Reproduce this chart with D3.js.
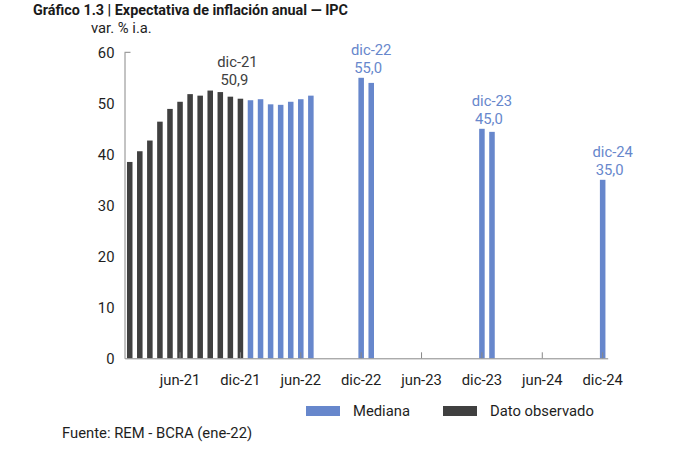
<!DOCTYPE html>
<html><head><meta charset="utf-8">
<script src="https://cdn.jsdelivr.net/npm/d3@7"></script>
<style>
body{margin:0;background:#fff;}
text{font-family:Roboto,"Noto Sans",sans-serif;}
</style></head>
<body><svg id="c" width="676" height="458"></svg>
<script>
const monthNames = ["ene","feb","mar","abr","may","jun","jul","ago","sep","oct","nov","dic"];
const years = ["21","22","23","24"];
const categories = [];
years.forEach(y => monthNames.forEach(m => categories.push(m + "-" + y)));

const observedMonths = ["ene-21","feb-21","mar-21","abr-21","may-21","jun-21","jul-21","ago-21","sep-21","oct-21","nov-21","dic-21"];
const observedValues = [38.5,40.6,42.7,46.4,48.9,50.3,51.8,51.5,52.5,52.2,51.3,50.9];
const medianMonths = ["ene-22","feb-22","mar-22","abr-22","may-22","jun-22","jul-22","dic-22","ene-23","dic-23","ene-24","dic-24"];
const medianValues = [50.6,50.8,49.8,49.7,50.3,50.8,51.5,55.0,54.0,45.0,44.4,35.0];
const tickLabels = ["jun-21","dic-21","jun-22","dic-22","jun-23","dic-23","jun-24","dic-24"];
const yTicks = [0,10,20,30,40,50,60];
const annotMonths = ["dic-21","dic-22","dic-23","dic-24"];
const annotValues = [50.9,55.0,45.0,35.0];

const BLUE = "#6787cc", DARK = "#404040", TXT = "#1e1e1e";
const FS = 14.8;
const svg = d3.select("#c");
const x = d3.scaleBand().domain(categories).range([124.7, 607.7]).paddingInner(0.45).paddingOuter(0.225);
const y = d3.scaleLinear().domain([0,60]).range([358.3, 52.3]);

// title
svg.append("text").attr("x",33).attr("y",15).attr("font-size",15.5).attr("font-weight","bold")
  .attr("fill","#1a1a1a").attr("textLength",315).attr("lengthAdjust","spacingAndGlyphs")
  .text("Gráfico 1.3 | Expectativa de inflación anual — IPC");
svg.append("text").attr("x",91).attr("y",33).attr("font-size",FS).attr("fill",TXT).text("var. % i.a.");

// bars
const obs = observedMonths.map((m,i)=>({m,v:observedValues[i]}));
const med = medianMonths.map((m,i)=>({m,v:medianValues[i]}));
svg.append("g").selectAll("rect").data(obs).join("rect")
  .attr("x",d=>x(d.m)).attr("width",x.bandwidth()).attr("y",d=>y(d.v)).attr("height",d=>y(0)-y(d.v)).attr("fill",DARK);
svg.append("g").selectAll("rect").data(med).join("rect")
  .attr("x",d=>x(d.m)).attr("width",x.bandwidth()).attr("y",d=>y(d.v)).attr("height",d=>y(0)-y(d.v)).attr("fill",BLUE);

// y axis
const yAxis = d3.axisLeft(y).tickValues(yTicks).tickSize(0).tickPadding(10);
const gy = svg.append("g").attr("transform","translate(124.5,0)").call(yAxis);
gy.select(".domain").attr("stroke","#888");
gy.selectAll("text").attr("font-size",FS).attr("fill",TXT).attr("font-family","Roboto");
gy.append("line").attr("x1",0).attr("x2",6).attr("y1",y(60)).attr("y2",y(60)).attr("stroke","#888");

// x axis
const xAxis = d3.axisBottom(x).tickValues(tickLabels).tickSize(0).tickPadding(16);
const gx = svg.append("g").attr("transform",`translate(0,${y(0)})`).call(xAxis);
gx.select(".domain").attr("stroke","#888");
gx.selectAll("text").attr("font-size",FS).attr("fill",TXT).attr("font-family","Roboto");
gx.selectAll(".tick").append("line").attr("y1",0).attr("y2",-6).attr("stroke","#888");

// annotations
const ann = annotMonths.map((m,i)=>({m,v:annotValues[i],obs:i===0}));
const maxObs = d3.max(observedValues);
ann.forEach(d=>{
  const cx = x(d.m) + x.bandwidth()/2 + (d.obs ? -3 : 10);
  const base = d.obs ? y(maxObs) : y(d.v);
  const col = d.obs ? DARK : BLUE;
  svg.append("text").attr("x",cx).attr("y",base-(d.obs?24:23)).attr("text-anchor","middle").attr("font-size",FS).attr("fill",col).text(d.m);
  svg.append("text").attr("x",cx-3).attr("y",base-(d.obs?24:23)+18).attr("text-anchor","middle").attr("font-size",FS).attr("fill",col)
    .text(d3.format(".1f")(d.v).replace(".",","));
});

// legend
const legend = [{label:"Mediana",color:BLUE,x:306},{label:"Dato observado",color:DARK,x:443}];
const lg = svg.append("g");
legend.forEach(l=>{
  lg.append("rect").attr("x",l.x).attr("y",406).attr("width",34).attr("height",10).attr("fill",l.color);
  lg.append("text").attr("x",l.x+47).attr("y",416).attr("font-size",FS).attr("fill",TXT).text(l.label);
});

svg.append("text").attr("x",62).attr("y",438).attr("font-size",FS).attr("fill",TXT).text("Fuente: REM - BCRA (ene-22)");
</script></body></html>
